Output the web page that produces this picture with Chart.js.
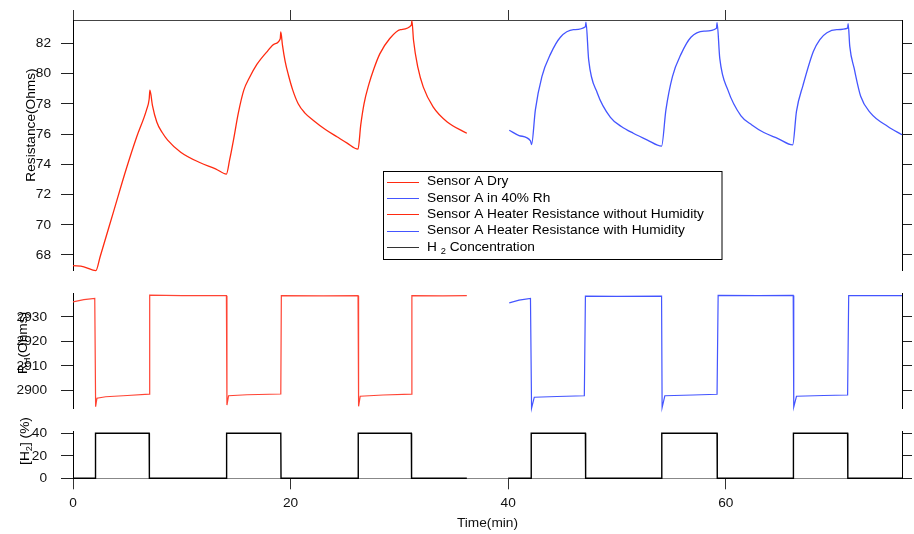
<!DOCTYPE html>
<html><head><meta charset="utf-8">
<script src="https://cdn.jsdelivr.net/npm/chart.js@4"></script>
<style>
html,body{margin:0;padding:0;background:#fff;}
#wrap{position:relative;width:914px;height:534px;}
#wrap canvas{position:absolute;left:0;top:0;}
</style></head><body>
<div id="wrap">
<canvas id="c1" width="914" height="534"></canvas>
<canvas id="c2" width="914" height="534"></canvas>
<canvas id="c3" width="914" height="534"></canvas>
</div>
<script>
// ---------- data ----------
const timeTicks = [0, 20, 40, 60];
const resTicks = [68, 70, 72, 74, 76, 78, 80, 82];
const heaterTicks = [2900, 2910, 2920, 2930];
const h2Ticks = [0, 20, 40];

const seriesNames = ['Sensor A Dry', 'Sensor A in 40% Rh', 'Sensor A Heater Resistance without Humidity', 'Sensor A Heater Resistance with Humidity', 'H2 Concentration'];

const dryT = [0, 1.0, 2.1, 2.5, 3.7, 4.9, 5.85, 6.76, 7.0, 7.07, 7.3, 7.7, 8.2, 8.7, 9.9, 11.7, 13.1, 14.1, 14.4, 14.75, 15.2, 15.7, 16.2, 16.9, 17.9, 18.5, 19.05, 19.1, 19.25, 19.5, 19.8, 20.2, 20.7, 21.3, 22.1, 23.2, 24.3, 25.2, 26.2, 26.45, 26.75, 27.2, 27.65, 28.2, 29.1, 30.1, 31.1, 31.15, 31.3, 31.7, 32.2, 33.1, 34.4, 36.2];
const dryR = [67.29, 67.22, 66.96, 67.9, 70.8, 73.7, 75.8, 77.6, 78.3, 78.9, 77.9, 76.8, 76.1, 75.6, 74.8, 74.1, 73.7, 73.35, 74.3, 75.6, 77.4, 78.9, 79.7, 80.6, 81.5, 81.95, 82.3, 82.75, 81.9, 80.8, 79.9, 78.9, 78.0, 77.4, 76.9, 76.3, 75.8, 75.4, 75.0, 76.6, 78.0, 79.3, 80.3, 81.3, 82.3, 82.9, 83.2, 83.5, 82.2, 80.4, 79.1, 77.8, 76.8, 76.05];

const humT = [40.1, 41.0, 42.05, 42.15, 42.5, 43.1, 43.9, 44.8, 46.0, 47.1, 47.15, 47.4, 48.2, 49.4, 50.4, 51.5, 52.8, 54.1, 54.5, 55.1, 55.9, 56.8, 58.0, 59.15, 59.2, 59.45, 60.2, 61.4, 62.4, 63.5, 64.8, 66.15, 66.5, 67.1, 68.05, 68.65, 69.3, 70.2, 71.2, 71.25, 71.4, 71.8, 72.4, 73.3, 74.9, 76.2];
const humR = [76.25, 75.9, 75.55, 75.3, 77.6, 79.8, 81.3, 82.4, 82.9, 83.1, 83.4, 80.9, 78.7, 77.1, 76.5, 76.05, 75.6, 75.2, 77.6, 79.8, 81.3, 82.4, 82.8, 83.0, 83.37, 81.0, 78.9, 77.2, 76.6, 76.1, 75.7, 75.28, 77.5, 79.22, 81.46, 82.25, 82.7, 82.9, 83.0, 83.3, 81.8, 80.35, 78.5, 77.4, 76.5, 75.95];

const heatDryT = [0, 1.0, 2.0, 2.08, 2.2, 3.0, 5.0, 7.0, 7.05, 10.0, 14.1, 14.15, 14.3, 16.0, 19.1, 19.15, 23.0, 26.2, 26.25, 26.4, 28.5, 31.1, 31.15, 34.0, 36.2];
const heatDryR = [2936.1, 2937.0, 2937.5, 2893.3, 2896.8, 2897.4, 2897.9, 2898.5, 2938.8, 2938.6, 2938.6, 2894.0, 2897.8, 2898.2, 2898.5, 2938.6, 2938.5, 2938.6, 2893.5, 2897.6, 2898.1, 2898.5, 2938.6, 2938.5, 2938.6];

const heatHumT = [40.1, 41.0, 42.05, 42.15, 42.4, 44.5, 47.0, 47.1, 50.0, 54.1, 54.15, 54.4, 57.0, 59.2, 59.3, 63.0, 66.2, 66.25, 66.5, 69.0, 71.2, 71.3, 74.0, 76.2];
const heatHumR = [2935.7, 2936.8, 2937.5, 2892.7, 2897.2, 2897.5, 2897.8, 2938.4, 2938.3, 2938.4, 2893.0, 2897.8, 2898.1, 2898.4, 2938.7, 2938.6, 2938.7, 2893.2, 2897.6, 2897.9, 2898.1, 2938.6, 2938.6, 2938.6];

const h2T = [0, 2.05, 2.07, 7.0, 7.02, 14.1, 14.12, 19.1, 19.12, 26.2, 26.22, 31.1, 31.12, 36.2, 38.0, 40.0, 42.1, 42.12, 47.1, 47.12, 54.1, 54.12, 59.2, 59.22, 66.2, 66.22, 71.2, 71.22, 76.2];
const h2C = [0, 0, 40, 40, 0, 0, 40, 40, 0, 0, 40, 40, 0, 0, null, 0, 0, 40, 40, 0, 0, 40, 40, 0, 0, 40, 40, 0, 0];

// ---------- styling ----------
const FONT = "'Liberation Sans', Arial, Helvetica, sans-serif";
const FS = 13.7;
const RED = '#ff2a10', RED2 = '#ff4434', BLUE = '#4455ff', BLACK = '#000';
const X_MAX = 76.2;

Chart.defaults.font.family = FONT;
Chart.defaults.font.size = FS;
Chart.defaults.color = '#000';

function pts(t, v) { return t.map((x, i) => ({x: x, y: v[i]})); }
function setTicks(arr) { return s => { s.ticks = arr.map(v => ({value: v})); }; }

function drawRich(ctx, segs, x, y, rotate, align) {
  ctx.save();
  ctx.translate(x, y);
  if (rotate) ctx.rotate(-Math.PI / 2);
  ctx.fillStyle = '#000';
  ctx.textBaseline = 'middle';
  ctx.textAlign = 'left';
  const widths = segs.map(([t, sub]) => { ctx.font = (sub ? FS * 0.68 : FS) + 'px ' + FONT; return ctx.measureText(t).width; });
  const total = widths.reduce((a, b) => a + b, 0);
  let cx = align === 'center' ? -total / 2 : 0;
  segs.forEach(([t, sub], i) => {
    ctx.font = (sub ? FS * 0.68 : FS) + 'px ' + FONT;
    ctx.fillText(t, cx, sub ? FS * 0.3 : 0);
    cx += widths[i];
  });
  ctx.restore();
}

function yAxis(min, max, ticks, pad, left) {
  return {
    type: 'linear', position: left ? 'left' : 'right', min: min, max: max,
    afterBuildTicks: setTicks(ticks),
    afterFit: s => { s.width = left ? 73 : 12; },
    ticks: {display: left, padding: pad, color: '#111', font: {size: FS}, callback: v => String(v)},
    grid: {drawOnChartArea: false, drawTicks: true, tickLength: left ? 12 : 10, tickColor: '#222', tickWidth: 1},
    border: {display: true, color: '#000', width: 1}
  };
}

const baseOpts = {
  responsive: false, animation: false, events: [],
  plugins: {legend: {display: false}, tooltip: {enabled: false}},
  elements: {point: {radius: 0}}
};

// ---------- top panel ----------
new Chart(document.getElementById('c1'), {
  type: 'line',
  data: {datasets: [
    {label: seriesNames[0], data: pts(dryT, dryR), borderColor: RED, borderWidth: 1.3, cubicInterpolationMode: 'monotone', clip: false},
    {label: seriesNames[1], data: pts(humT, humR), borderColor: BLUE, borderWidth: 1.3, cubicInterpolationMode: 'monotone', clip: false}
  ]},
  options: Object.assign({}, baseOpts, {
    layout: {padding: {top: 0, left: 0, right: 0, bottom: 263.3}},
    scales: {
      x: {type: 'linear', position: 'top', min: 0, max: X_MAX,
          afterBuildTicks: setTicks(timeTicks), afterFit: s => { s.height = 20; },
          ticks: {display: false},
          grid: {drawOnChartArea: false, drawTicks: true, tickLength: 10, tickColor: '#333'},
          border: {display: true, color: '#444', width: 1}},
      y: yAxis(66.96, 83.54, resTicks, 10, true),
      y2: yAxis(66.96, 83.54, resTicks, 0, false)
    }
  }),
  plugins: [{
    id: 'deco1',
    afterDraw(chart) {
      const ctx = chart.ctx;
      drawRich(ctx, [['Resistance(Ohms)', false]], 31, 125, true, 'center');
      // legend
      const bx = 383.5, by = 171.5, bw = 338.5, bh = 88;
      ctx.save();
      ctx.fillStyle = '#fff';
      ctx.fillRect(bx, by, bw, bh);
      ctx.strokeStyle = '#000'; ctx.lineWidth = 1;
      ctx.strokeRect(bx, by, bw, bh);
      const cols = [RED, BLUE, RED, BLUE, '#333'];
      const rows = [
        [[seriesNames[0], false]],
        [[seriesNames[1], false]],
        [[seriesNames[2], false]],
        [[seriesNames[3], false]],
        [['H ', false], ['2', true], [' Concentration', false]]
      ];
      rows.forEach((segs, i) => {
        const yy = 181.5 + i * 16.4;
        ctx.strokeStyle = cols[i]; ctx.lineWidth = 1;
        ctx.beginPath(); ctx.moveTo(387, Math.round(yy) + 0.5); ctx.lineTo(419, Math.round(yy) + 0.5); ctx.stroke();
        drawRich(ctx, segs, 427, yy, false, 'left');
      });
      ctx.restore();
    }
  }]
});

// ---------- middle panel ----------
new Chart(document.getElementById('c2'), {
  type: 'line',
  data: {datasets: [
    {label: seriesNames[2], data: pts(heatDryT, heatDryR), borderColor: RED2, borderWidth: 1.2, clip: false},
    {label: seriesNames[3], data: pts(heatHumT, heatHumR), borderColor: BLUE, borderWidth: 1.2, clip: false}
  ]},
  options: Object.assign({}, baseOpts, {
    layout: {padding: {top: 293.5, left: 0, right: 0, bottom: 125.5}},
    scales: {
      x: {type: 'linear', display: false, min: 0, max: X_MAX},
      y: yAxis(2892.6, 2939.5, heaterTicks, 14, true),
      y2: yAxis(2892.6, 2939.5, heaterTicks, 0, false)
    }
  }),
  plugins: [{
    id: 'deco2',
    afterDraw(chart) {
      drawRich(chart.ctx, [['R', false], ['H', true], ['(Ohms)', false]], 23, 343, true, 'center');
    }
  }]
});

// ---------- bottom panel ----------
new Chart(document.getElementById('c3'), {
  type: 'line',
  data: {datasets: [
    {label: seriesNames[4], data: pts(h2T, h2C), borderColor: BLACK, borderWidth: 1.4, clip: false, spanGaps: false}
  ]},
  options: Object.assign({}, baseOpts, {
    layout: {padding: {top: 431, left: 0, right: 0, bottom: 0}},
    scales: {
      x: {type: 'linear', position: 'bottom', min: 0, max: X_MAX,
          afterBuildTicks: setTicks(timeTicks), afterFit: s => { s.height = 55.7; },
          ticks: {padding: 6, color: '#111', font: {size: FS}, maxRotation: 0, callback: v => String(v)},
          grid: {drawOnChartArea: false, drawTicks: true, tickLength: 11, tickColor: '#333'},
          border: {display: true, color: '#888', width: 1},
          title: {display: true, text: 'Time(min)', color: '#111', font: {size: FS}, padding: {top: 0, bottom: 3}}},
      y: yAxis(0, 42, h2Ticks, 14, true),
      y2: yAxis(0, 42, h2Ticks, 0, false)
    }
  }),
  plugins: [{
    id: 'deco3',
    afterDraw(chart) {
      drawRich(chart.ctx, [['[H', false], ['2', true], ['] (%)', false]], 25, 441, true, 'center');
    }
  }]
});
</script>
</body></html>
